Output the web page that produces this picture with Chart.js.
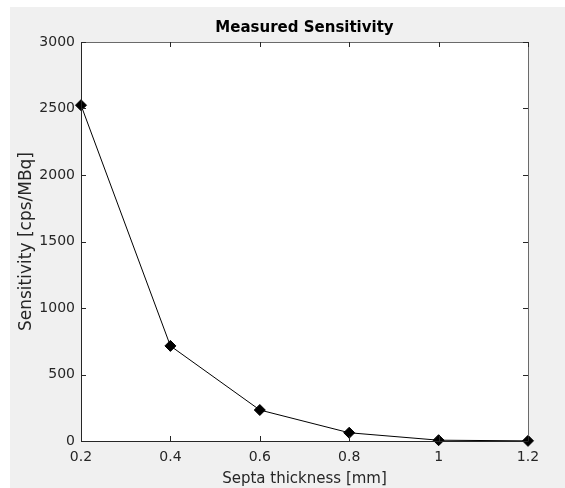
<!DOCTYPE html>
<html>
<head>
<meta charset="utf-8">
<script src="https://cdn.jsdelivr.net/npm/chart.js@4.4.0/dist/chart.umd.min.js"></script>
<style>
  html, body { margin: 0; padding: 0; background: #ffffff; }
  #wrap { width: 565px; height: 488px; }
</style>
</head>
<body>
<div id="wrap"><canvas id="sensChart" width="565" height="488"></canvas></div>
<script>
// --- datos ---
const espesores = [0.2, 0.4, 0.6, 0.8, 1.0, 1.2];          // Septa thickness [mm]
const sensibilidad = [2525, 715, 233, 62, 6, 1];           // cps/MBq
const ticksX = [0.2, 0.4, 0.6, 0.8, 1.0, 1.2];
const ticksY = [0, 500, 1000, 1500, 2000, 2500, 3000];
const titulo = 'Measured Sensitivity';
const tituloX = 'Septa thickness [mm]';
const tituloY = 'Sensitivity [cps/MBq]';

const FUENTE = '"DejaVu Sans", sans-serif';
const GRIS_TXT = '#262626';

// fondo gris de figura + caja estilo MATLAB
const figuraMatlab = {
  id: 'figuraMatlab',
  beforeDraw(chart) {
    const c = chart.ctx, a = chart.chartArea;
    c.save();
    c.fillStyle = '#f0f0f0';
    c.fillRect(10, 7, chart.width - 10, chart.height - 7);
    c.fillStyle = '#ffffff';
    c.fillRect(a.left, a.top, a.right - a.left, a.bottom - a.top);
    c.restore();
  },
  afterDraw(chart) {
    const c = chart.ctx, a = chart.chartArea;
    const sx = chart.scales.x, sy = chart.scales.y;
    c.save();
    c.lineWidth = 1;
    // lados superior y derecho
    c.strokeStyle = '#6a6a6a';
    c.beginPath();
    c.moveTo(a.left, a.top + 0.5); c.lineTo(a.right + 0.5, a.top + 0.5);
    c.lineTo(a.right + 0.5, a.bottom);
    c.stroke();
    // ejes izquierdo e inferior
    c.strokeStyle = GRIS_TXT;
    c.beginPath();
    c.moveTo(a.left + 0.5, a.top); c.lineTo(a.left + 0.5, a.bottom + 0.5);
    c.lineTo(a.right + 0.5, a.bottom + 0.5);
    c.stroke();
    // marcas hacia dentro
    c.beginPath();
    ticksX.forEach(v => {
      const px = Math.round(sx.getPixelForValue(v)) + 0.5;
      c.moveTo(px, a.bottom); c.lineTo(px, a.bottom - 5);
      c.moveTo(px, a.top); c.lineTo(px, a.top + 5);
    });
    ticksY.forEach(v => {
      const py = Math.round(sy.getPixelForValue(v)) + 0.5;
      c.moveTo(a.left, py); c.lineTo(a.left + 5, py);
      c.moveTo(a.right, py); c.lineTo(a.right - 5, py);
    });
    c.stroke();
    // títulos
    c.fillStyle = '#000000';
    c.textAlign = 'center';
    c.textBaseline = 'middle';
    c.font = 'bold 15px ' + FUENTE;
    c.fillText(titulo, (a.left + a.right) / 2, 28);
    c.fillStyle = GRIS_TXT;
    c.font = '15px ' + FUENTE;
    c.fillText(tituloX, (a.left + a.right) / 2, 479);
    c.font = '17px ' + FUENTE;
    c.translate(27, (a.top + a.bottom) / 2);
    c.rotate(-Math.PI / 2);
    c.fillText(tituloY, 0, 0);
    c.restore();
  }
};

new Chart(document.getElementById('sensChart'), {
  type: 'scatter',
  data: {
    datasets: [{
      data: espesores.map((x, i) => ({ x: x, y: sensibilidad[i] })),
      showLine: true,
      borderColor: '#000000',
      borderWidth: 1,
      pointStyle: 'rectRot',
      pointRadius: 5.5,
      pointBackgroundColor: '#000000',
      pointBorderColor: '#000000',
      clip: false
    }]
  },
  options: {
    responsive: false,
    animation: false,
    devicePixelRatio: 1,
    layout: { padding: { left: 0, top: 42, right: 37, bottom: 0 } },
    plugins: { legend: { display: false }, tooltip: { enabled: false }, title: { display: false } },
    scales: {
      x: {
        type: 'linear', min: 0.2, max: 1.2,
        afterBuildTicks: s => { s.ticks = ticksX.map(v => ({ value: v })); },
        afterFit: s => { s.height = 47; },
        grid: { display: false, drawTicks: false },
        border: { display: false },
        ticks: {
          color: GRIS_TXT, padding: 8, maxRotation: 0,
          font: { family: FUENTE, size: 14 },
          callback: v => String(Math.round(v * 10) / 10)
        }
      },
      y: {
        min: 0, max: 3000,
        afterBuildTicks: s => { s.ticks = ticksY.map(v => ({ value: v })); },
        afterFit: s => { s.width = 81; },
        grid: { display: false, drawTicks: false },
        border: { display: false },
        ticks: {
          color: GRIS_TXT, padding: 6,
          font: { family: FUENTE, size: 14 },
          callback: v => String(v)
        }
      }
    }
  },
  plugins: [figuraMatlab]
});
</script>
</body>
</html>
